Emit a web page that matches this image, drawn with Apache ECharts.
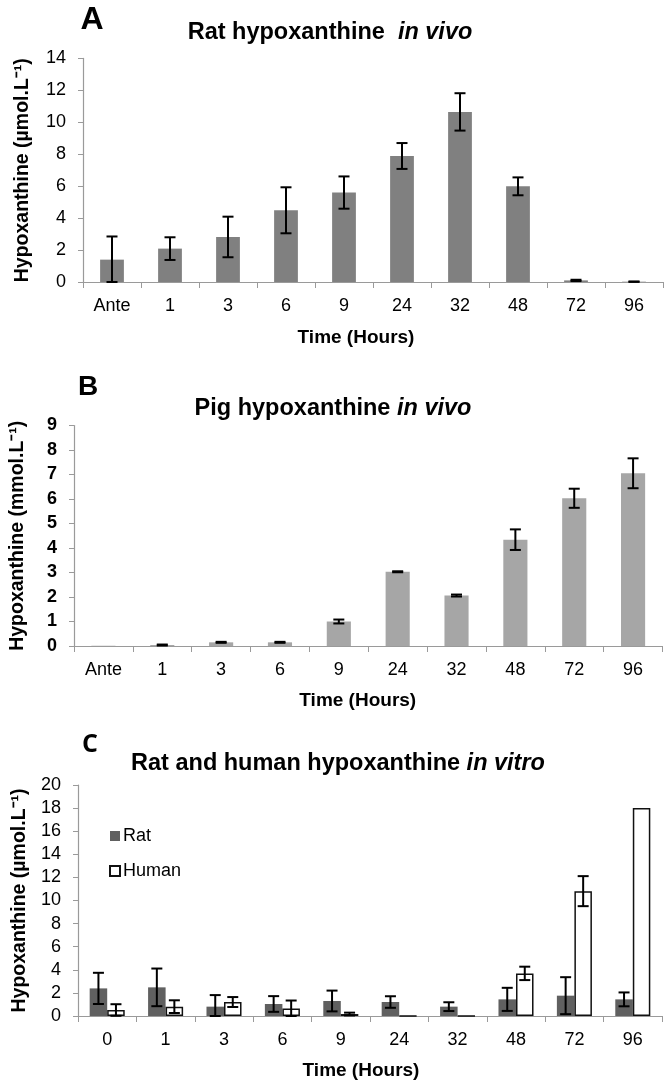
<!DOCTYPE html>
<html>
<head>
<meta charset="utf-8">
<script src="https://cdn.jsdelivr.net/npm/echarts@6/dist/echarts.min.js"></script>
<style>
html,body{margin:0;padding:0;background:#fff;}
#chart{width:666px;height:1087px;}
</style>
</head>
<body>
<div id="chart"></div>
<script>
// ---- data ----
const categoriesInVivo = ['Ante','1','3','6','9','24','32','48','72','96'];
const categoriesInVitro = ['0','1','3','6','9','24','32','48','72','96'];

const ratInVivo    = [1.40, 2.09, 2.82, 4.49, 5.60, 7.89, 10.65, 5.99, 0.10, 0.02];
const ratInVivoErr = [1.45, 0.71, 1.27, 1.44, 1.01, 0.81, 1.17, 0.56, 0.04, 0.01];

const pigInVivo    = [0.01, 0.04, 0.15, 0.15, 1.00, 3.03, 2.06, 4.34, 6.03, 7.05];
const pigInVivoErr = [0.00, 0.02, 0.02, 0.02, 0.08, 0.02, 0.04, 0.42, 0.39, 0.61];

const ratInVitro    = [2.39, 2.48, 0.81, 1.04, 1.30, 1.21, 0.81, 1.44, 1.76, 1.44];
const ratInVitroErr = [1.35, 1.63, 1.00, 0.68, 0.90, 0.50, 0.38, 1.00, 1.60, 0.60];

const humanInVitro    = [0.52, 0.81, 1.21, 0.66, 0.17, 0.02, 0.02, 3.69, 10.81, 18.00];
const humanInVitroErr = [0.50, 0.55, 0.43, 0.68, 0.12, 0.00, 0.00, 0.58, 1.30, 0.00];

const yTicksA = {min: 0, max: 14, interval: 2};
const yTicksB = {min: 0, max: 9, interval: 1};
const yTicksC = {min: 0, max: 20, interval: 2};

// ---- helpers ----
const FONT = '"Liberation Sans", Arial, sans-serif';
const axisGray = '#9a9a9a';

function errData(vals, errs) {
  return vals.map((v, i) => [i, v, errs[i]]);
}
function errRender(offsetFrac) {
  return function (params, api) {
    const i = api.value(0), v = api.value(1), e = api.value(2);
    if (!(e > 0)) return null;
    const hi = v + e, lo = Math.max(0, v - e);
    const pHi = api.coord([i, hi]);
    const pLo = api.coord([i, lo]);
    const cw = api.size([1, 0])[0];
    const x = pHi[0] + offsetFrac * cw;
    const hw = 5.5;
    const st = {stroke: '#000', lineWidth: 2};
    return {type: 'group', children: [
      {type: 'line', shape: {x1: x, y1: pHi[1], x2: x, y2: pLo[1]}, style: st},
      {type: 'line', shape: {x1: x - hw, y1: pHi[1], x2: x + hw, y2: pHi[1]}, style: st},
      {type: 'line', shape: {x1: x - hw, y1: pLo[1], x2: x + hw, y2: pLo[1]}, style: st}
    ]};
  };
}
function xAxisCfg(gridIndex, cats, nameGap, namePad) {
  return {
    type: 'category', gridIndex, data: cats,
    axisLine: {lineStyle: {color: axisGray, width: 1.2}},
    axisTick: {show: true, length: 6, lineStyle: {color: axisGray}},
    axisLabel: {color: '#000', fontFamily: FONT, fontSize: 18, margin: 15},
    name: 'Time (Hours)', nameLocation: 'middle', nameGap,
    nameTextStyle: {color: '#000', fontFamily: FONT, fontSize: 19, fontWeight: 'bold', padding: namePad}
  };
}
function yAxisCfg(gridIndex, t, name, nameGap, boldLabels) {
  return {
    type: 'value', gridIndex, min: t.min, max: t.max, interval: t.interval,
    splitLine: {show: false},
    axisLine: {show: true, lineStyle: {color: axisGray, width: 1.2}},
    axisTick: {show: true, length: 5, lineStyle: {color: axisGray}},
    axisLabel: {color: '#000', fontFamily: FONT, fontSize: 18, margin: 17, fontWeight: boldLabels ? 'bold' : 'normal'},
    name, nameLocation: 'middle', nameRotate: 90, nameGap,
    nameTextStyle: {color: '#000', fontFamily: FONT, fontSize: 19.5, fontWeight: 'bold'}
  };
}
function titleText(x, y, plain, italic) {
  return {
    type: 'text', x, y,
    style: {
      text: '{b|' + plain + '}{i|' + italic + '}',
      align: 'center', verticalAlign: 'middle',
      rich: {
        b: {fontFamily: FONT, fontSize: 23.5, fontWeight: 'bold', fill: '#000'},
        i: {fontFamily: FONT, fontSize: 23.5, fontWeight: 'bold', fontStyle: 'italic', fill: '#000'}
      }
    }
  };
}
function panelLabel(x, y, t, size, fam) {
  return {type: 'text', x, y, style: {text: t, fontFamily: fam || FONT, fontSize: size, fontWeight: 'bold', fill: '#000', align: 'center', verticalAlign: 'middle'}};
}

const chart = echarts.init(document.getElementById('chart'), null, {renderer: 'canvas'});
chart.setOption({
  backgroundColor: '#fff',
  animation: false,
  graphic: [
    panelLabel(92, 20, 'A', 32),
    titleText(330, 33, 'Rat hypoxanthine  ', 'in vivo'),
    panelLabel(88, 387, 'B', 28),
    titleText(333, 409, 'Pig hypoxanthine ', 'in vivo'),
    panelLabel(90, 745, 'C', 25, '"Open Sans", sans-serif'),
    titleText(338, 764, 'Rat and human hypoxanthine ', 'in vitro')
  ],
  legend: {
    left: 104, top: 822, orient: 'vertical', itemGap: 17,
    itemWidth: 10, itemHeight: 10, icon: 'rect',
    textStyle: {fontFamily: FONT, fontSize: 18, lineHeight: 18, color: '#000', padding: [0, 0, 0, -2]},
    data: ['Rat', 'Human']
  },
  grid: [
    {left: 83, right: 3, top: 58.4, bottom: 805},
    {left: 72.5, right: 3.5, top: 425.5, bottom: 441},
    {left: 78, right: 4, top: 785, bottom: 71}
  ],
  xAxis: [
    xAxisCfg(0, categoriesInVivo, 46.5, [0, 34, 0, 0]),
    xAxisCfg(1, categoriesInVivo, 45.5, [0, 21, 0, 0]),
    xAxisCfg(2, categoriesInVitro, 45.5, [0, 18, 0, 0])
  ],
  yAxis: [
    yAxisCfg(0, yTicksA, 'Hypoxanthine (µmol.L⁻¹)', 50, false),
    yAxisCfg(1, yTicksB, 'Hypoxanthine (mmol.L⁻¹)', 46, true),
    yAxisCfg(2, yTicksC, 'Hypoxanthine (µmol.L⁻¹)', 48, false)
  ],
  series: [
    {type: 'bar', name: 'Rat in vivo', xAxisIndex: 0, yAxisIndex: 0, data: ratInVivo,
     barCategoryGap: '59%', itemStyle: {color: '#808080'}},
    {type: 'custom', name: 'Rat in vivo error', xAxisIndex: 0, yAxisIndex: 0,
     data: errData(ratInVivo, ratInVivoErr), renderItem: errRender(0), z: 5},
    {type: 'bar', name: 'Pig in vivo', xAxisIndex: 1, yAxisIndex: 1, data: pigInVivo,
     barCategoryGap: '59%', itemStyle: {color: '#a6a6a6'}},
    {type: 'custom', name: 'Pig in vivo error', xAxisIndex: 1, yAxisIndex: 1,
     data: errData(pigInVivo, pigInVivoErr), renderItem: errRender(0), z: 5},
    {type: 'bar', name: 'Rat', xAxisIndex: 2, yAxisIndex: 2, data: ratInVitro,
     barCategoryGap: '40%', barGap: '0%', itemStyle: {color: '#606060'}},
    {type: 'bar', name: 'Human', xAxisIndex: 2, yAxisIndex: 2, data: humanInVitro,
     barCategoryGap: '40%', barGap: '0%', itemStyle: {color: '#fff', borderColor: '#111', borderWidth: 1.5}},
    {type: 'custom', name: 'Rat error', xAxisIndex: 2, yAxisIndex: 2,
     data: errData(ratInVitro, ratInVitroErr), renderItem: errRender(-0.15), z: 5},
    {type: 'custom', name: 'Human error', xAxisIndex: 2, yAxisIndex: 2,
     data: errData(humanInVitro, humanInVitroErr), renderItem: errRender(0.15), z: 5}
  ]
});
</script>
</body>
</html>
